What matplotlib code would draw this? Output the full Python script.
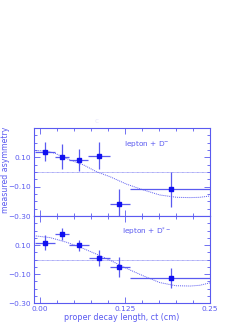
import numpy as np
import matplotlib.pyplot as plt
from matplotlib.ticker import MultipleLocator

# upper panel: lepton + D-
x_d = [0.0074, 0.032, 0.057, 0.087, 0.116, 0.192]
y_d = [0.138, 0.104, 0.082, 0.111, -0.218, -0.118]
xlo_d = [-0.007, 0.022, 0.042, 0.071, 0.103, 0.132]
xhi_d = [0.022, 0.042, 0.071, 0.103, 0.132, 0.25]
yerr_d = [0.065, 0.085, 0.073, 0.09, 0.10, 0.12]
fitx_d = [-0.009, 0.0, 0.012, 0.022, 0.044, 0.064, 0.083, 0.103, 0.127,
          0.152, 0.176, 0.201, 0.221, 0.235, 0.25]
fity_d = [0.145, 0.145, 0.140, 0.127, 0.082, 0.048, 0.002, -0.032, -0.082,
          -0.122, -0.156, -0.172, -0.174, -0.172, -0.163]

# lower panel: lepton + D*-
x_ds = [0.0074, 0.032, 0.057, 0.087, 0.116, 0.192]
y_ds = [0.118, 0.176, 0.100, 0.011, -0.050, -0.129]
xlo_ds = [-0.007, 0.022, 0.042, 0.072, 0.103, 0.132]
xhi_ds = [0.022, 0.042, 0.072, 0.103, 0.132, 0.25]
yerr_ds = [0.05, 0.043, 0.038, 0.057, 0.07, 0.068]
fitx_ds = [-0.009, 0.0147, 0.039, 0.059, 0.083, 0.103, 0.127, 0.152, 0.176,
           0.20, 0.221, 0.235, 0.25]
fity_ds = [0.165, 0.152, 0.12, 0.086, 0.038, -0.004, -0.06, -0.112, -0.158,
           -0.18, -0.182, -0.177, -0.16]

line_c = '#5a5af0'
pt_c = '#1010f0'
fs = 5.3

fig = plt.figure(figsize=(2.53, 3.27), dpi=100)
ax1 = fig.add_axes([0.134, 0.339, 0.696, 0.270])
ax2 = fig.add_axes([0.134, 0.073, 0.696, 0.266])


def panel(ax, x, y, xlo, xhi, yerr, fx, fy, label):
    ax.axhline(0, color=line_c, lw=0.6, ls=(0, (1, 0.5)), alpha=0.7)
    ax.plot(fx, fy, color=line_c, lw=0.7, ls=(0, (1, 1)))
    x = np.array(x)
    xerr = [x - np.array(xlo), np.array(xhi) - x]
    ax.errorbar(x, y, xerr=xerr, yerr=yerr, fmt='s', ms=3, color=pt_c,
                ecolor=line_c, elinewidth=0.9, capsize=0)
    ax.set_xlim(-0.009, 0.25)
    ax.set_ylim(-0.30, 0.30)
    ax.set_yticks([-0.30, -0.10, 0.10])
    ax.yaxis.set_minor_locator(MultipleLocator(0.05))
    ax.set_xticks([0.0, 0.125, 0.25])
    ax.xaxis.set_minor_locator(MultipleLocator(0.025))
    ax.tick_params(which='both', direction='in', top=True, right=True,
                   color=line_c, labelcolor=line_c, labelsize=fs, width=0.6, pad=2)
    ax.tick_params(which='major', length=4)
    ax.tick_params(which='minor', length=2)
    for s in ax.spines.values():
        s.set_color(line_c)
        s.set_linewidth(0.8)
    ax.text(0.157, 0.19, label, color=line_c, fontsize=fs, ha='center', va='center')


panel(ax1, x_d, y_d, xlo_d, xhi_d, yerr_d, fitx_d, fity_d, 'lepton + D$^{-}$')
panel(ax2, x_ds, y_ds, xlo_ds, xhi_ds, yerr_ds, fitx_ds, fity_ds, 'lepton + D$^{*\u2212}$')
ax1.set_yticklabels(['\u22120.30', '\u22120.10', '0.10'])
ax2.set_yticklabels(['\u22120.30', '\u22120.10', '0.10'])
ax1.tick_params(labelbottom=False)
ax2.set_xticklabels(['0.00', '0.125', '0.25'])
ax2.set_xlabel('proper decay length, ct (cm)', color=line_c, fontsize=fs + 0.5, labelpad=1)

fig.text(0.022, 0.48, 'measured asymmetry', rotation=90, color=line_c,
         fontsize=fs + 0.3, ha='center', va='center')
fig.text(0.383, 0.630, 'c', color='#e8e8fa', fontsize=fs, ha='center', va='center')

fig.savefig('out.png', dpi=100)
